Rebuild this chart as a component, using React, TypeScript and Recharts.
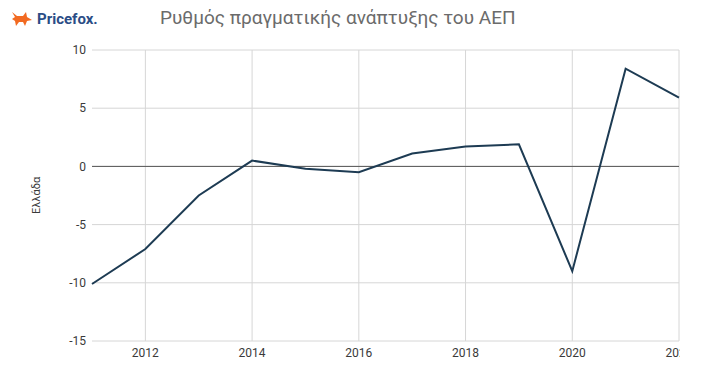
import { LineChart, Line, XAxis, YAxis, CartesianGrid, ReferenceLine } from 'recharts'

const years = [2011, 2012, 2013, 2014, 2015, 2016, 2017, 2018, 2019, 2020, 2021, 2022]
const growth = [-10.1, -7.1, -2.5, 0.5, -0.2, -0.5, 1.1, 1.7, 1.9, -9.0, 8.4, 5.9]
const xTicks = [2012, 2014, 2016, 2018, 2020, 2022]
const yTicks = [-15, -10, -5, 0, 5, 10]

const data = years.map((year, i) => ({ year, value: growth[i] }))

const FONT = 'Roboto, "Liberation Sans", Arial, sans-serif'

function FoxLogo() {
  return (
    <svg width={22} height={16} viewBox="0 0 22 16" style={{ display: 'block' }}>
      <path
        d="M1 1 L6 5 L12 5 L15 1 L16 6 L21 9 L16 10 L14 15 L12 11 L8 11 L5 15 L4 10 L1 8 L4 6 Z"
        fill="#f26a21"
      />
    </svg>
  )
}

export default function App() {
  return (
    <div style={{ position: 'absolute', left: 0, top: 0, width: 720, height: 373, background: '#fff', fontFamily: FONT }}>
      <div style={{ position: 'absolute', left: 11, top: 10, display: 'flex', alignItems: 'center' }}>
        <FoxLogo />
        <span style={{ marginLeft: 4, color: '#2b4d86', fontWeight: 700, fontSize: 15 }}>Pricefox.</span>
      </div>
      <div style={{ position: 'absolute', left: 160, top: 6, color: '#6b6b6b', fontSize: 19 }}>
        Ρυθμός πραγματικής ανάπτυξης του ΑΕΠ
      </div>
      <div style={{ position: 'absolute', left: 0, top: 0, width: 680, height: 373, overflow: 'hidden' }}>
        <LineChart width={720} height={373} data={data} margin={{ top: 50, right: 41, bottom: 10, left: 0 }}>
          <CartesianGrid stroke="#d6d6d6" horizontalValues={yTicks} verticalValues={xTicks} />
          <XAxis
            dataKey="year"
            type="number"
            domain={[2011, 2022]}
            ticks={xTicks}
            height={22}
            axisLine={false}
            tickLine={false}
            tickSize={0}
            tickMargin={7}
            interval={0}
            tick={{ fill: '#3a3a3a', fontSize: 12, fontFamily: FONT }}
          />
          <YAxis
            type="number"
            domain={[-15, 10]}
            ticks={yTicks}
            width={92}
            axisLine={false}
            tickLine={false}
            tickSize={0}
            tickMargin={6}
            tick={{ fill: '#3a3a3a', fontSize: 12, fontFamily: FONT }}
            label={{
              value: 'Ελλάδα',
              angle: -90,
              position: 'insideLeft',
              offset: 36,
              style: { fill: '#3a3a3a', fontSize: 11, fontFamily: FONT, textAnchor: 'middle' },
            }}
          />
          <ReferenceLine y={0} stroke="#555" strokeWidth={1} />
          <Line
            type="linear"
            dataKey="value"
            stroke="#1d3b53"
            strokeWidth={2}
            dot={false}
            isAnimationActive={false}
          />
        </LineChart>
      </div>
    </div>
  )
}
